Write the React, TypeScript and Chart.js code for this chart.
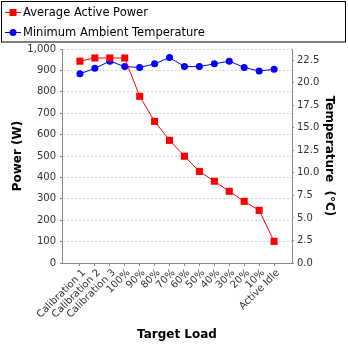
import React, { useEffect, useRef } from "react";
import { Chart, registerables } from "chart.js";

Chart.register(...registerables);

const categories = ["Calibration 1", "Calibration 2", "Calibration 3", "100%", "90%", "80%", "70%", "60%", "50%", "40%", "30%", "20%", "10%", "Active Idle"];
const power = [943, 958, 958, 958, 779, 662, 573, 499, 428, 382, 335, 288, 246, 101];
const temperature = [21.0, 21.6, 22.4, 21.8, 21.7, 22.1, 22.8, 21.8, 21.8, 22.1, 22.4, 21.7, 21.3, 21.5];
const powerTicks = [0, 100, 200, 300, 400, 500, 600, 700, 800, 900, 1000];
const tempTicks = [0, 2.5, 5, 7.5, 10, 12.5, 15, 17.5, 20, 22.5];
const seriesNames = ["Average Active Power", "Minimum Ambient Temperature"];

const FONT = "'DejaVu Sans', sans-serif";
const AXIS_GRAY = "#888888";

const legendPlugin = {
  id: "boxLegend",
  afterDraw(chart: any) {
    const ctx = chart.ctx;
    ctx.save();
    ctx.strokeStyle = "#000";
    ctx.lineWidth = 1;
    ctx.strokeRect(1.5, 1.5, 344, 40.5);
    const colors = ["#ff0000", "#0000ff"];
    seriesNames.forEach((name, i) => {
      const y = 12.5 + 20 * i;
      ctx.strokeStyle = colors[i];
      ctx.fillStyle = colors[i];
      ctx.beginPath();
      ctx.moveTo(5, y);
      ctx.lineTo(21, y);
      ctx.stroke();
      if (i === 0) {
        ctx.fillRect(9.5, y - 3.5, 7, 7);
      } else {
        ctx.beginPath();
        ctx.arc(13, y, 3.5, 0, Math.PI * 2);
        ctx.fill();
      }
      ctx.fillStyle = "#000";
      ctx.font = "11.5px " + FONT;
      ctx.textBaseline = "middle";
      ctx.textAlign = "left";
      ctx.fillText(name, 23, y + 0.5);
    });
    ctx.restore();
  },
};

export default function App() {
  const ref = useRef<HTMLCanvasElement>(null);
  useEffect(() => {
    if (!ref.current) return;
    const chart = new Chart(ref.current, {
      type: "line",
      data: {
        datasets: [
          {
            label: seriesNames[0],
            data: power.map((v, i) => ({ x: i, y: v })),
            borderColor: "#ff0000",
            backgroundColor: "#ff0000",
            borderWidth: 1,
            pointStyle: "rect",
            pointRadius: 5,
            pointBorderWidth: 0,
            yAxisID: "y",
          },
          {
            label: seriesNames[1],
            data: temperature.map((v, i) => ({ x: i, y: v })),
            borderColor: "#0000ff",
            backgroundColor: "#0000ff",
            borderWidth: 1,
            pointStyle: "circle",
            pointRadius: 3.5,
            pointBorderWidth: 0,
            yAxisID: "y1",
          },
        ],
      },
      options: {
        responsive: false,
        animation: false,
        layout: { padding: { top: 49, left: 0, right: 0, bottom: 0 } },
        plugins: { legend: { display: false }, tooltip: { enabled: false } },
        scales: {
          x: {
            type: "linear",
            min: -1.2,
            max: categories.length - 1 + 1.2,
            afterBuildTicks: (s: any) => {
              s.ticks = categories.map((_, i) => ({ value: i }));
            },
            afterFit: (s: any) => {
              s.height = 85;
            },
            ticks: {
              autoSkip: false,
              minRotation: 45,
              maxRotation: 45,
              padding: 1,
              labelOffset: 4,
              color: "#333",
              font: { family: FONT, size: 10 },
              callback: (v: any) => categories[v],
            },
            grid: { drawOnChartArea: false, drawTicks: true, tickLength: 3, color: AXIS_GRAY },
            border: { display: true, color: AXIS_GRAY },
            title: {
              display: true,
              text: "Target Load",
              color: "#000",
              font: { family: FONT, size: 12, weight: "bold" },
              padding: { top: 0, bottom: 6 },
            },
          },
          y: {
            type: "linear",
            position: "left",
            min: 0,
            max: 1000,
            afterBuildTicks: (s: any) => {
              s.ticks = powerTicks.map((v) => ({ value: v }));
            },
            afterFit: (s: any) => {
              s.width = 62;
            },
            ticks: {
              padding: 4,
              color: "#333",
              font: { family: FONT, size: 10 },
              callback: (v: any) => Number(v).toLocaleString("en-US"),
            },
            grid: { color: "#d8d8d8", tickLength: 2, tickColor: AXIS_GRAY, tickBorderDash: [] },
            border: { display: true, color: AXIS_GRAY, dash: [2, 2] },
            title: {
              display: true,
              text: "Power (W)",
              color: "#000",
              font: { family: FONT, size: 12, weight: "bold" },
              padding: { top: 11, bottom: 0 },
            },
          },
          y1: {
            type: "linear",
            position: "right",
            min: 0,
            max: 23.75,
            afterBuildTicks: (s: any) => {
              s.ticks = tempTicks.map((v) => ({ value: v }));
            },
            afterFit: (s: any) => {
              s.width = 56;
            },
            ticks: {
              padding: 3,
              color: "#333",
              font: { family: FONT, size: 10 },
              callback: (v: any) => Number(v).toFixed(1),
            },
            grid: { drawOnChartArea: false, tickLength: 2, color: AXIS_GRAY },
            border: { display: true, color: AXIS_GRAY },
            title: {
              display: true,
              text: "Temperature  (°C)",
              color: "#000",
              font: { family: FONT, size: 12, weight: "bold" },
              padding: { top: 12, bottom: 0 },
            },
          },
        },
      },
      plugins: [legendPlugin],
    } as any);
    return () => chart.destroy();
  }, []);
  return (
    <div style={{ position: "absolute", left: 0, top: 0, width: 348, height: 348, background: "#fff" }}>
      <canvas ref={ref} width={348} height={348} style={{ display: "block" }} />
    </div>
  );
}
